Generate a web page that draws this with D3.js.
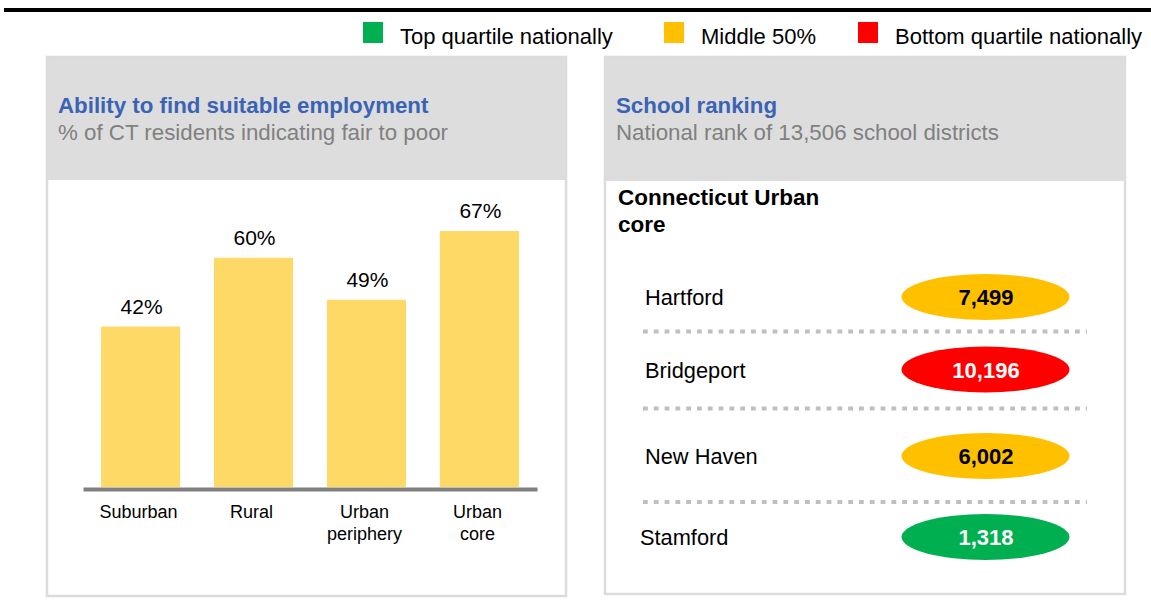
<!DOCTYPE html>
<html>
<head>
  <title>Connecticut - employment and school ranking</title>
  <script src="https://d3js.org/d3.v7.min.js"></script>
  <style>
    body { margin: 0; background: #fff; }
    svg { display: block; font-family: "Liberation Sans", Arial, sans-serif; }
  </style>
</head>
<body>
<div id="vis"></div>
<script>
  // data
  var categories = ["Suburban", "Rural", "Urban periphery", "Urban core"];
  var categoryLines = [["Suburban"], ["Rural"], ["Urban", "periphery"], ["Urban", "core"]];
  var pctValues = [42, 60, 49, 67];

  var districts = ["Hartford", "Bridgeport", "New Haven", "Stamford"];
  var ranks = [7499, 10196, 6002, 1318];
  var quartiles = ["mid", "bottom", "mid", "top"];

  var legendKeys = ["top", "mid", "bottom"];
  var legendLabels = ["Top quartile nationally", "Middle 50%", "Bottom quartile nationally"];
  var quartileColor = { top: "#00b050", mid: "#ffc000", bottom: "#ff0000" };
  var quartileText = { top: "#ffffff", mid: "#000000", bottom: "#ffffff" };

  var W = 1151, H = 600;
  var svg = d3.select("#vis").append("svg")
    .attr("width", W)
    .attr("height", H);

  svg.append("rect").attr("width", W).attr("height", H).attr("fill", "#fff");

  // thick black rule at the top
  svg.append("rect")
    .attr("x", 4).attr("y", 8)
    .attr("width", W - 4).attr("height", 4)
    .attr("fill", "#000");

  // legend
  var legendX = [363, 664, 858];
  var lg = svg.selectAll(".lg").data(legendKeys).enter().append("g")
    .attr("class", "lg")
    .attr("transform", function(d, i) { return "translate(" + legendX[i] + ",0)"; });
  lg.append("rect")
    .attr("x", 0).attr("y", 22)
    .attr("width", 20).attr("height", 21)
    .attr("fill", function(d) { return quartileColor[d]; });
  lg.append("text")
    .attr("x", 37).attr("y", 44)
    .attr("font-size", 22)
    .attr("fill", "#000")
    .text(function(d, i) { return legendLabels[i]; });

  // panel frames
  function panel(x0, x1, headBottom, bottom, title, subtitle, textX) {
    var g = svg.append("g");
    g.append("rect")
      .attr("x", x0).attr("y", 57)
      .attr("width", x1 - x0).attr("height", headBottom - 57)
      .attr("fill", "#dddddd");
    g.append("rect")
      .attr("x", x0).attr("y", 57)
      .attr("width", x1 - x0).attr("height", bottom - 57)
      .attr("fill", "none")
      .attr("stroke", "#dcdcdc")
      .attr("stroke-width", 2.5);
    g.append("text")
      .attr("x", textX).attr("y", 113)
      .attr("font-size", 22.3)
      .attr("font-weight", "bold")
      .attr("fill", "#3a63b4")
      .text(title);
    g.append("text")
      .attr("x", textX).attr("y", 140)
      .attr("font-size", 22.3)
      .attr("fill", "#808080")
      .text(subtitle);
    return g;
  }

  panel(47, 566, 180, 596, "Ability to find suitable employment",
        "% of CT residents indicating fair to poor", 58);
  panel(605, 1125, 181, 594, "School ranking",
        "National rank of 13,506 school districts", 616);

  // ---- bar chart (left) ----
  var x = d3.scaleBand()
    .domain(categories)
    .range([83, 537])
    .paddingInner(0.3)
    .paddingOuter(0.16);

  var y = d3.scaleLinear()
    .domain([0, 67])
    .range([487, 231]);

  svg.selectAll(".bar")
    .data(categories)
    .enter().append("rect")
    .attr("class", "bar")
    .attr("x", function(d) { return x(d); })
    .attr("y", function(d, i) { return y(pctValues[i]); })
    .attr("width", x.bandwidth())
    .attr("height", function(d, i) { return y(0) - y(pctValues[i]); })
    .attr("fill", "#ffd966");

  svg.selectAll(".pct")
    .data(categories)
    .enter().append("text")
    .attr("class", "pct")
    .attr("x", function(d) { return x(d) + x.bandwidth() / 2 + 1; })
    .attr("y", function(d, i) { return y(pctValues[i]) - 13; })
    .attr("text-anchor", "middle")
    .attr("font-size", 21)
    .attr("fill", "#000")
    .text(function(d, i) { return pctValues[i] + "%"; });

  var xAxis = svg.append("g")
    .attr("transform", "translate(0," + (y(0) + 2) + ")")
    .call(d3.axisBottom(x).tickSize(0).tickSizeOuter(0));
  xAxis.select(".domain").attr("stroke", "#808080").attr("stroke-width", 4);
  xAxis.selectAll(".tick text").remove();
  xAxis.selectAll(".tick").append("text")
    .attr("text-anchor", "middle")
    .attr("font-family", "Liberation Sans, Arial, sans-serif")
    .attr("font-size", 18)
    .attr("fill", "#000")
    .selectAll("tspan")
    .data(function(d) { return categoryLines[categories.indexOf(d)]; })
    .enter().append("tspan")
    .attr("x", -2)
    .attr("y", function(d, i) { return 29 + i * 22; })
    .text(function(d) { return d; });

  // ---- school ranking (right) ----
  svg.append("text")
    .attr("x", 618).attr("y", 205)
    .attr("font-size", 22.5)
    .attr("font-weight", "bold")
    .attr("fill", "#000")
    .text("Connecticut Urban");
  svg.append("text")
    .attr("x", 618).attr("y", 232)
    .attr("font-size", 22.5)
    .attr("font-weight", "bold")
    .attr("fill", "#000")
    .text("core");

  var rowY = d3.scalePoint()
    .domain(districts)
    .range([297, 537]);
  // rows in the picture are not evenly spaced; small nudge per row
  var rowShift = [0, -7.5, -1, 0];
  function rowCenter(d, i) { return rowY(d) + rowShift[i]; }

  var nameX = [645, 645, 645, 640];

  svg.selectAll(".dname")
    .data(districts)
    .enter().append("text")
    .attr("class", "dname")
    .attr("x", function(d, i) { return nameX[i]; })
    .attr("y", function(d, i) { return rowCenter(d, i) + 8; })
    .attr("font-size", 21.8)
    .attr("fill", "#000")
    .text(function(d) { return d; });

  svg.selectAll(".pill")
    .data(districts)
    .enter().append("ellipse")
    .attr("class", "pill")
    .attr("cx", 985.5)
    .attr("cy", function(d, i) { return rowCenter(d, i); })
    .attr("rx", 84)
    .attr("ry", 23)
    .attr("fill", function(d, i) { return quartileColor[quartiles[i]]; });

  svg.selectAll(".rank")
    .data(districts)
    .enter().append("text")
    .attr("class", "rank")
    .attr("x", 986)
    .attr("y", function(d, i) { return rowCenter(d, i) + 8; })
    .attr("text-anchor", "middle")
    .attr("font-size", 22)
    .attr("font-weight", "bold")
    .attr("fill", function(d, i) { return quartileText[quartiles[i]]; })
    .text(function(d, i) { return d3.format(",")(ranks[i]); });

  // dotted separators between rows
  var sepY = [331.5, 408.5, 502];
  svg.selectAll(".sep")
    .data(sepY)
    .enter().append("line")
    .attr("class", "sep")
    .attr("x1", 643).attr("x2", 1087)
    .attr("y1", function(d) { return d; })
    .attr("y2", function(d) { return d; })
    .attr("stroke", "#bfbfbf")
    .attr("stroke-width", 3.8)
    .attr("stroke-dasharray", "4.8,6");
</script>
</body>
</html>
